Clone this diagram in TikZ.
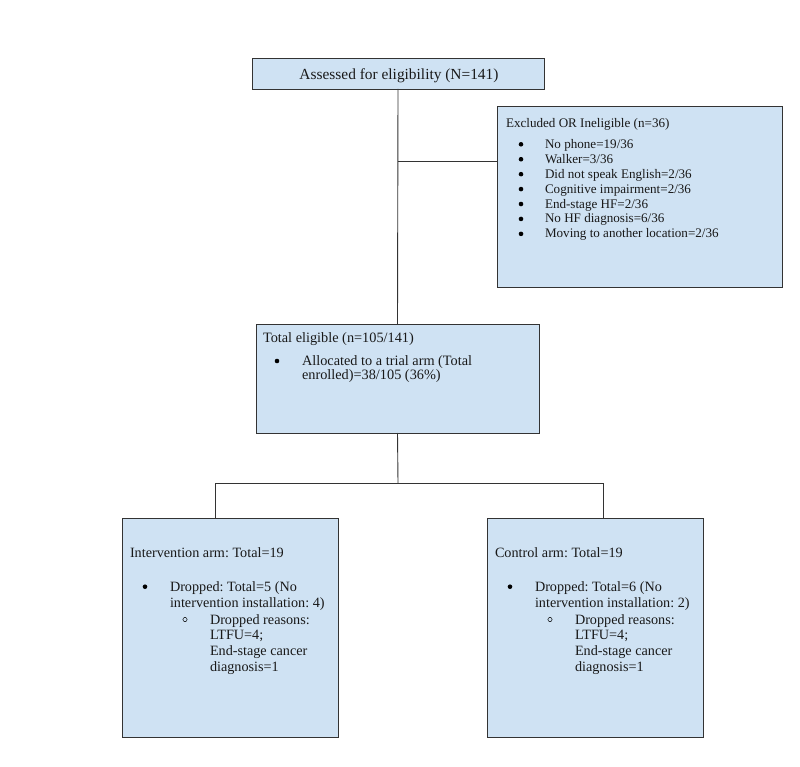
\documentclass[tikz,border=0pt]{standalone}
\usepackage{fontspec}
\setmainfont{Liberation Serif}
\frenchspacing
\definecolor{boxfill}{HTML}{CFE2F3}
\definecolor{edge}{HTML}{333333}
\begin{document}
\begin{tikzpicture}[x=1pt,y=-1pt,
  box/.style={draw=edge, fill=boxfill, line width=0.9pt, inner sep=0pt, outer sep=0pt, anchor=north west},
  txt/.style={anchor=base west, inner sep=0pt, outer sep=0pt, text=black!90},
  ftop/.style={font=\fontsize{15.4}{17}\selectfont},
  fexc/.style={font=\fontsize{13.1}{15}\selectfont},
  fmid/.style={font=\fontsize{14.3}{15}\selectfont},
  fbot/.style={font=\fontsize{14.2}{16}\selectfont},
  link/.style={draw=edge, line width=0.9pt},
  dotb/.style={fill=black},
  odot/.style={draw=black, line width=0.5pt}]
\useasboundingbox (0,0) rectangle (800,767);

% boxes
\node[box, minimum width=292pt, minimum height=31pt]  (assess) at (252,58) {};
\node[box, minimum width=285pt, minimum height=181pt] (excl)   at (497,106) {};
\node[box, minimum width=283pt, minimum height=109pt] (elig)   at (256,324) {};
\node[box, minimum width=216pt, minimum height=219pt] (inter)  at (122,518) {};
\node[box, minimum width=216pt, minimum height=219pt] (ctrl)   at (487,518) {};

% connectors
\draw[link] (assess.south) -- (elig.north);
\coordinate (j1) at (398,161);
\draw[link] (j1) -- (j1 -| excl.west);
\coordinate (j2) at (398,483);
\draw[link] (elig.south) -- (j2);
\coordinate (jl) at (215,483);
\coordinate (jr) at (603,483);
\draw[link] (jl) -- (jr);
\draw[link] (jl) -- (jl |- inter.north);
\draw[link] (jr) -- (jr |- ctrl.north);

% top text
\node[txt, ftop, anchor=base] (tA) at (399,80) {Assessed for eligibility (N=141)};

% excluded
\node[txt, fexc] (tE0) at (506,127.5) {Excluded OR Ineligible (n=36)};
\foreach \i/\t in {0/{No phone=19/36}, 1/{Walker=3/36}, 2/{Did not speak English=2/36},
  3/{Cognitive impairment=2/36}, 4/{End-stage HF=2/36}, 5/{No HF diagnosis=6/36},
  6/{Moving to another location=2/36}}{
  \fill[dotb] (521,{144.3+\i*14.93}) circle (2.3);
  \node[txt, fexc] (tE\i x) at (545,{148.3+\i*14.93}) {\t};
}

% eligible
\node[txt, fmid] (tM0) at (263,342.3) {Total eligible (n=105/141)};
\fill[dotb] (277,361) circle (2.3);
\node[txt, fmid] (tM1) at (302,365) {Allocated to a trial arm (Total};
\node[txt, fmid] (tM2) at (302,379.7) {enrolled)=38/105 (36\%)};

% intervention
\node[txt, fbot] (tI0) at (130,557.3) {Intervention arm: Total=19};
\fill[dotb] (145,586.7) circle (2.3);
\node[txt, fbot] (tI1) at (170,591) {Dropped: Total=5 (No};
\node[txt, fbot] (tI2) at (170,607) {intervention installation: 4)};
\draw[odot] (185,619.5) circle (2.1);
\node[txt, fbot] (tI3) at (210,624) {Dropped reasons:};
\node[txt, fbot] (tI4) at (210,639.5) {LTFU=4;};
\node[txt, fbot] (tI5) at (210,655.5) {End-stage cancer};
\node[txt, fbot] (tI6) at (210,671) {diagnosis=1};

% control
\node[txt, fbot] (tC0) at (495,557.3) {Control arm: Total=19};
\fill[dotb] (510,586.7) circle (2.3);
\node[txt, fbot] (tC1) at (535,591) {Dropped: Total=6 (No};
\node[txt, fbot] (tC2) at (535,607) {intervention installation: 2)};
\draw[odot] (550,619.5) circle (2.1);
\node[txt, fbot] (tC3) at (575,624) {Dropped reasons:};
\node[txt, fbot] (tC4) at (575,639.5) {LTFU=4;};
\node[txt, fbot] (tC5) at (575,655.5) {End-stage cancer};
\node[txt, fbot] (tC6) at (575,671) {diagnosis=1};
\end{tikzpicture}
\end{document}
